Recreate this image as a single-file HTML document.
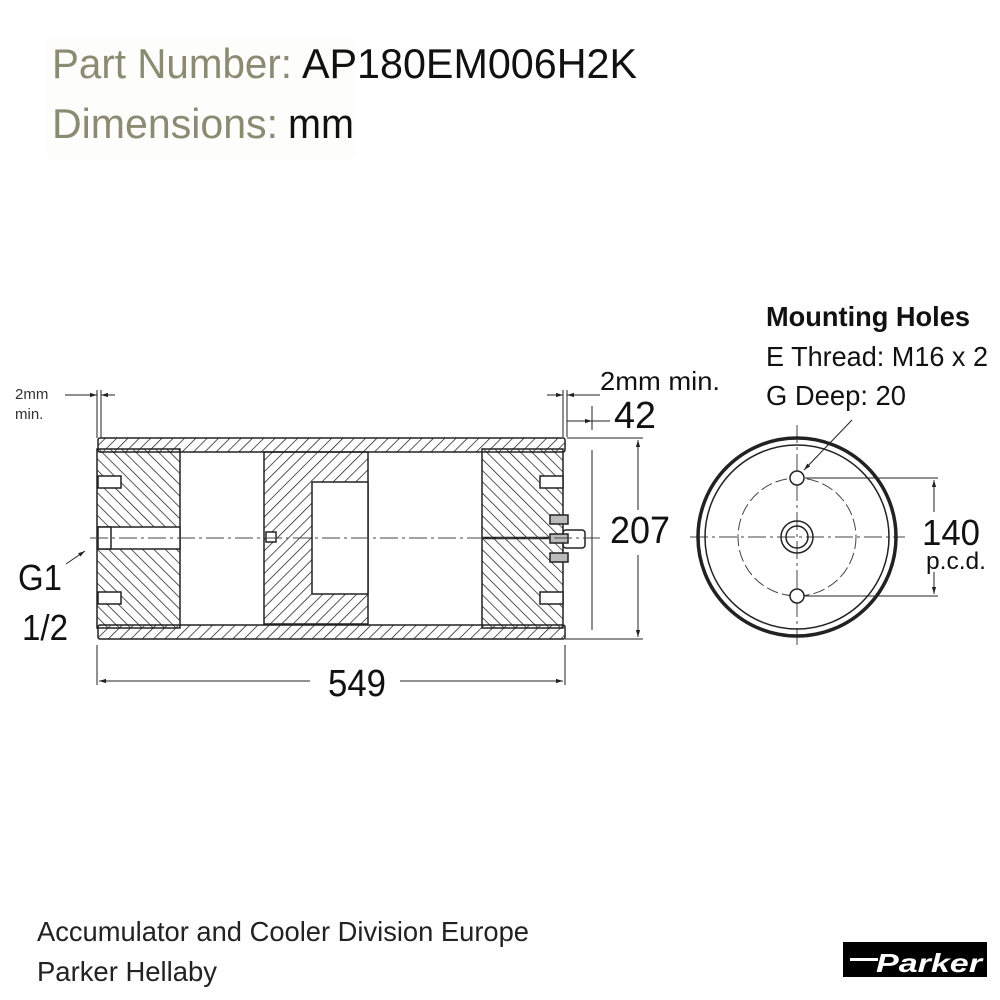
<!DOCTYPE html>
<html><head><meta charset="utf-8"><style>
html,body{margin:0;padding:0;background:#fff;}
svg{display:block;}
</style></head><body>
<svg width="1000" height="1000" viewBox="0 0 1000 1000" xmlns="http://www.w3.org/2000/svg" font-family="Liberation Sans, sans-serif">
<defs>
<pattern id="h1" patternUnits="userSpaceOnUse" width="8" height="8" patternTransform="rotate(45)"><line x1="0" y1="0" x2="0" y2="8" stroke="#111" stroke-width="1.4"/></pattern>
<pattern id="h2" patternUnits="userSpaceOnUse" width="8" height="8" patternTransform="rotate(-45)"><line x1="0" y1="0" x2="0" y2="8" stroke="#111" stroke-width="1.4"/></pattern>
<marker id="ar" viewBox="0 0 10 10" refX="10" refY="5" markerWidth="7" markerHeight="7" orient="auto-start-reverse"><path d="M0,2 L10,5 L0,8 z" fill="#222"/></marker>
</defs>
<rect width="1000" height="1000" fill="#fff"/>
<!-- header -->
<rect x="46" y="38" width="310" height="120" fill="#fdfdfb"/>
<text x="52" y="78" font-size="42" fill="#8b8a73" textLength="240" lengthAdjust="spacingAndGlyphs">Part Number:</text>
<text x="302" y="78" font-size="42" fill="#111" textLength="335" lengthAdjust="spacingAndGlyphs">AP180EM006H2K</text>
<text x="52" y="138" font-size="42" fill="#8b8a73" textLength="226" lengthAdjust="spacingAndGlyphs">Dimensions:</text>
<text x="288" y="138" font-size="42" fill="#111" textLength="66" lengthAdjust="spacingAndGlyphs">mm</text>

<g stroke="#222" fill="none" stroke-width="1.5">
<!-- tube -->
<rect x="98" y="438" width="467" height="14" fill="url(#h1)" rx="2"/>
<rect x="98" y="625" width="467" height="14" fill="url(#h1)" rx="2"/>
<!-- left cap -->
<rect x="97" y="449" width="83" height="179" fill="url(#h2)"/>
<rect x="98" y="527" width="82" height="22" fill="#fff"/>
<rect x="98" y="527" width="13" height="22" fill="#fff"/>
<rect x="98" y="476" width="23" height="12" fill="#fff"/>
<rect x="98" y="592" width="23" height="12" fill="#fff"/>
<!-- piston -->
<rect x="264" y="452" width="104" height="172" fill="url(#h1)"/>
<rect x="312" y="482" width="56" height="112" fill="#fff"/>
<rect x="266" y="532" width="10" height="10" fill="#fff"/>
<!-- right cap -->
<rect x="482" y="449" width="81" height="179" fill="url(#h2)"/>
<rect x="540" y="476" width="23" height="12" fill="#fff"/>
<rect x="540" y="592" width="23" height="12" fill="#fff"/>
<line x1="482" y1="538" x2="563" y2="538" stroke-width="2.5"/>
<!-- valve -->
<rect x="563" y="530" width="22" height="18" rx="3"/>
<rect x="550" y="515" width="18" height="9" fill="#bbb"/>
<rect x="550" y="534" width="18" height="9" fill="#bbb"/>
<rect x="550" y="553" width="18" height="9" fill="#bbb"/>
</g>
<!-- centre lines -->
<g stroke="#444" stroke-width="1" stroke-dasharray="18,4,3,4" fill="none">
<line x1="90" y1="538" x2="600" y2="538"/>
<line x1="690" y1="537" x2="905" y2="537"/>
<line x1="797" y1="425" x2="797" y2="645"/>
</g>
<circle cx="797" cy="537" r="59" stroke="#444" stroke-width="1" fill="none" stroke-dasharray="12,4"/>
<!-- end view -->
<g stroke="#222" fill="none">
<circle cx="797" cy="537" r="99" stroke-width="3.5"/>
<circle cx="797" cy="537" r="92" stroke-width="1.5"/>
<circle cx="797" cy="478" r="7" stroke-width="1.5" fill="#fff"/>
<circle cx="797" cy="596" r="7" stroke-width="1.5" fill="#fff"/>
<circle cx="797" cy="537" r="16" stroke-width="1.5"/>
<circle cx="797" cy="537" r="11" stroke-width="1.5"/>
<line x1="805" y1="478" x2="938" y2="478" stroke-width="1"/>
<line x1="805" y1="596" x2="938" y2="596" stroke-width="1"/>
<line x1="934" y1="480" x2="934" y2="594" stroke-width="1" marker-start="url(#ar)" marker-end="url(#ar)"/>
<line x1="852" y1="420" x2="804" y2="470" stroke-width="1" marker-end="url(#ar)"/>
</g>
<rect x="920" y="512" width="40" height="60" fill="#fff"/>
<text x="922" y="545" font-size="36" fill="#111" textLength="58" lengthAdjust="spacingAndGlyphs">140</text>
<text x="926" y="569" font-size="24" fill="#111" textLength="60" lengthAdjust="spacingAndGlyphs">p.c.d.</text>
<text x="766" y="326" font-size="28" font-weight="bold" fill="#111" textLength="204" lengthAdjust="spacingAndGlyphs">Mounting Holes</text>
<text x="766" y="366" font-size="28" fill="#111" textLength="222" lengthAdjust="spacingAndGlyphs">E Thread: M16 x 2</text>
<text x="766" y="405" font-size="28" fill="#111" textLength="140" lengthAdjust="spacingAndGlyphs">G Deep: 20</text>

<!-- dims main -->
<g stroke="#222" stroke-width="1" fill="none">
<line x1="97" y1="390" x2="97" y2="438"/>
<line x1="101" y1="390" x2="101" y2="438"/>
<line x1="65" y1="395" x2="97" y2="395" marker-end="url(#ar)"/>
<line x1="115" y1="395" x2="101" y2="395" marker-end="url(#ar)"/>
<line x1="563" y1="390" x2="563" y2="437"/>
<line x1="567" y1="390" x2="567" y2="437"/>
<line x1="547" y1="395" x2="563" y2="395" marker-end="url(#ar)"/>
<line x1="600" y1="395" x2="567" y2="395" marker-end="url(#ar)"/>
<line x1="567" y1="421" x2="592" y2="421" marker-end="url(#ar)"/>
<line x1="610" y1="421" x2="592" y2="421"/>
<line x1="592" y1="406" x2="592" y2="430"/>
<line x1="567" y1="438" x2="643" y2="438"/>
<line x1="565" y1="639" x2="643" y2="639"/>
<line x1="638" y1="440" x2="638" y2="510" marker-start="url(#ar)"/>
<line x1="638" y1="555" x2="638" y2="637" marker-end="url(#ar)"/>
<line x1="592" y1="450" x2="592" y2="630"/>
<line x1="97" y1="645" x2="97" y2="685"/>
<line x1="565" y1="645" x2="565" y2="685"/>
<line x1="99" y1="681" x2="310" y2="681" marker-start="url(#ar)"/>
<line x1="400" y1="681" x2="563" y2="681" marker-end="url(#ar)"/>
<line x1="66" y1="564" x2="85" y2="551" marker-end="url(#ar)"/>
</g>
<text x="15" y="399" font-size="15" fill="#333">2mm</text>
<text x="15" y="419" font-size="15" fill="#333">min.</text>
<text x="600" y="390" font-size="26" fill="#111" textLength="120" lengthAdjust="spacingAndGlyphs">2mm min.</text>
<text x="614" y="428" font-size="38" fill="#111" textLength="42" lengthAdjust="spacingAndGlyphs">42</text>
<text x="610" y="543" font-size="38" fill="#111" textLength="60" lengthAdjust="spacingAndGlyphs">207</text>
<text x="328" y="696" font-size="38" fill="#111" textLength="58" lengthAdjust="spacingAndGlyphs">549</text>
<text x="18" y="590" font-size="36" fill="#111" textLength="44" lengthAdjust="spacingAndGlyphs">G1</text>
<text x="22" y="640" font-size="36" fill="#111" textLength="46" lengthAdjust="spacingAndGlyphs">1/2</text>

<!-- footer -->
<text x="37" y="941" font-size="28" fill="#222" textLength="492" lengthAdjust="spacingAndGlyphs">Accumulator and Cooler Division Europe</text>
<text x="37" y="981" font-size="28" fill="#222" textLength="180" lengthAdjust="spacingAndGlyphs">Parker Hellaby</text>
<rect x="843" y="942" width="144" height="35" fill="#000"/>
<rect x="850" y="958" width="28" height="3" fill="#fff"/>
<text x="876" y="972" font-size="26" font-weight="bold" fill="#fff" font-style="italic" textLength="106" lengthAdjust="spacingAndGlyphs">Parker</text>
</svg>
</body></html>
